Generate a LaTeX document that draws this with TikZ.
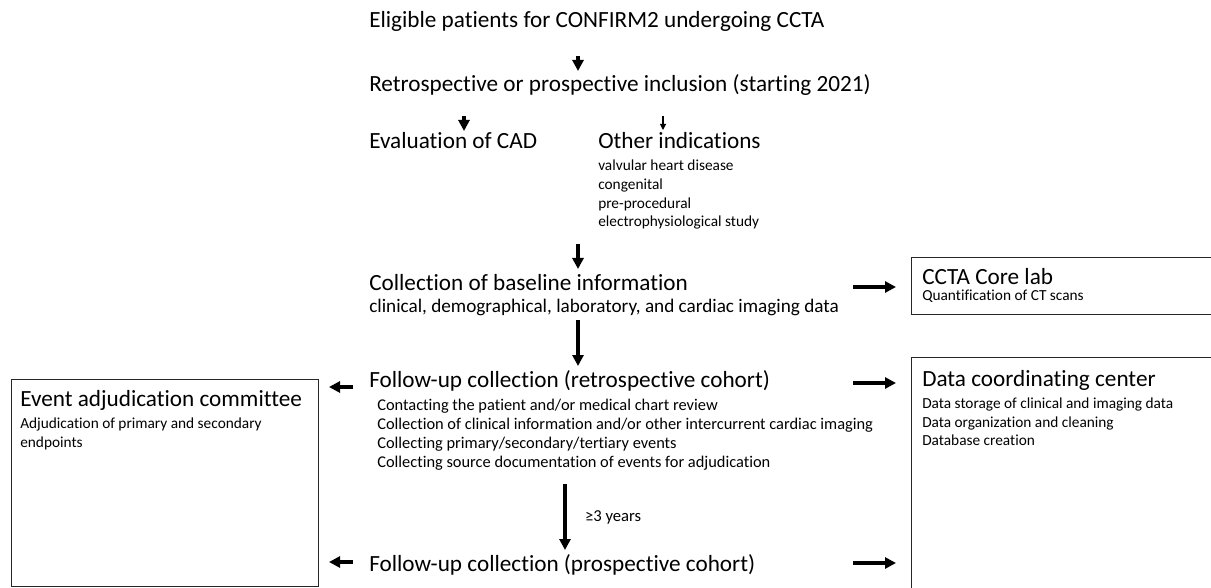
\documentclass[tikz,border=0pt]{standalone}
\usepackage{fontspec}
\setmainfont{Carlito}[Ligatures=CommonOff]
\usetikzlibrary{arrows.meta}

\tikzset{
  big/.style={anchor=west, inner sep=0pt, font=\fontsize{17.4}{20}\selectfont},
  small/.style={anchor=north west, inner sep=0pt, align=left, font=\fontsize{11.5}{14}\selectfont},
  detail/.style={small, font=\fontsize{12.3}{14.3}\selectfont},
  basenote/.style={small, font=\fontsize{14.4}{17}\selectfont},
  fat/.style={-{Triangle[length=8.25pt,width=8.25pt]}, line width=3pt},
  slim/.style={-{Triangle[length=4.5pt,width=4.5pt]}, line width=0.8pt},
  frame/.style={draw=black!85, line width=0.8pt, inner sep=0pt, anchor=north west},
}

\begin{document}
\begin{tikzpicture}[x=0.75pt, y=-0.75pt]
    \useasboundingbox (0,0) rectangle (1211,588);

    % Main column of steps
    \node[big] (elig) at (369,21) {Eligible patients for CONFIRM2 undergoing CCTA};
    \node[big] (incl) at (369,85) {Retrospective or prospective inclusion (starting 2021)};
    \node[big] (cad) at (369,141) {Evaluation of CAD};
    \node[big] (other) at (598,141) {Other indications};
    \node[small] (otherlist) at (598,160) {valvular heart disease\\congenital\\pre-procedural\\electrophysiological study};
    \node[big] (base) at (369,283) {Collection of baseline information};
    \node[basenote] (baselist) at (369,299) {clinical, demographical, laboratory, and cardiac imaging data};
    \node[big] (retro) at (369,381) {Follow-up collection (retrospective cohort)};
    \node[detail] (retrolist) at (377,399) {Contacting the patient and/or medical chart review\\Collection of clinical information and/or other intercurrent cardiac imaging\\Collecting primary/secondary/tertiary events\\Collecting source documentation of events for adjudication};
    \node[big] (prosp) at (369,565) {Follow-up collection (prospective cohort)};

    % Side boxes
    \node[frame, minimum width=228pt, minimum height=42.75pt] (core) at (911,257) {};
    \node[big] (coretitle) at (922,277) {CCTA Core lab};
    \node[small] (corelist) at (922,289.5) {Quantification of CT scans};

    \node[frame, minimum width=228pt, minimum height=177pt] (dcc) at (911,357) {};
    \node[big] (dcctitle) at (922,380) {Data coordinating center};
    \node[small] (dcclist) at (922,397.5) {Data storage of clinical and imaging data\\Data organization and cleaning\\Database creation};

    \node[frame, minimum width=230.25pt, minimum height=155.25pt] (eac) at (11,379) {};
    \node[big] (eactitle) at (20,400) {Event adjudication committee};
    \node[small] (eaclist) at (20,417.5) {Adjudication of primary and secondary\\endpoints};

    % Arrow ends
    \coordinate (a1) at (578,56);  \coordinate (a2) at (578,71);
    \coordinate (b1) at (464,116); \coordinate (b2) at (464,131);
    \coordinate (c1) at (663,116); \coordinate (c2) at (663,130);
    \coordinate (d1) at (578,244); \coordinate (d2) at (578,269);
    \coordinate (e1) at (578,320); \coordinate (e2) at (578,366);
    \coordinate (f1) at (565,484); \coordinate (f2) at (565,550);
    \coordinate (g1) at (353,387); \coordinate (g2) at (329,387);
    \coordinate (h1) at (353,562); \coordinate (h2) at (329,562);
    \coordinate (i1) at (853,287); \coordinate (i2) at (896,287);
    \coordinate (j1) at (853,383); \coordinate (j2) at (896,383);
    \coordinate (k1) at (853,563); \coordinate (k2) at (896,563);

    % Draw the arrows
    \draw[fat] (a1) -- (a2);
    \draw[fat] (b1) -- (b2);
    \draw[slim] (c1) -- (c2);
    \draw[fat] (d1) -- (d2);
    \draw[fat] (e1) -- (e2);
    \draw[fat] (f1) -- node[midway, anchor=west, xshift=13.5pt, inner sep=0pt, font=\fontsize{12.5}{14}\selectfont] (gap) {≥3 years} (f2);
    \draw[fat] (g1) -- (g2);
    \draw[fat] (h1) -- (h2);
    \draw[fat] (i1) -- (i2);
    \draw[fat] (j1) -- (j2);
    \draw[fat] (k1) -- (k2);

\end{tikzpicture}
\end{document}
